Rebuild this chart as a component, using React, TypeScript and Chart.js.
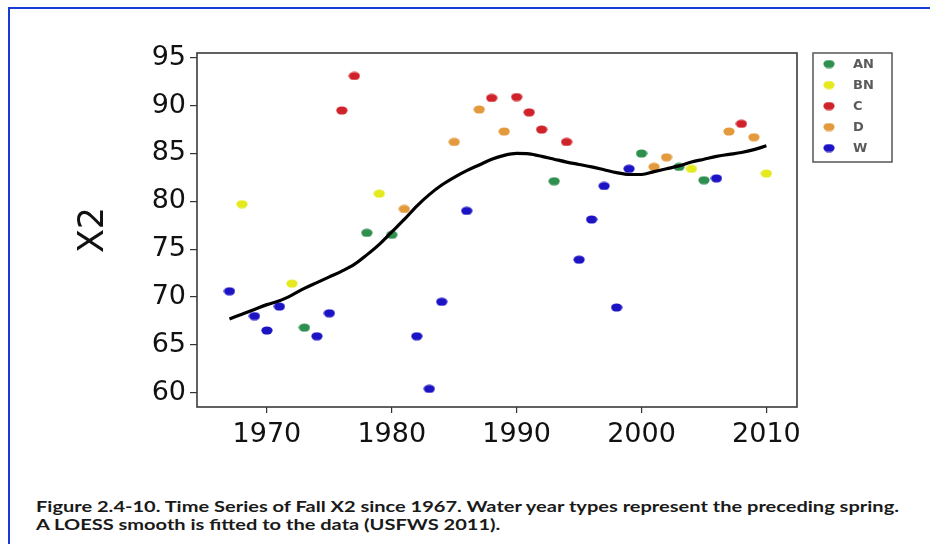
import React, { useEffect, useRef } from "react";
import { Chart, registerables } from "chart.js";

Chart.register(...registerables);

// ---- data ----
const YEARS = [
  1967, 1968, 1969, 1970, 1971, 1972, 1973, 1974, 1975, 1976, 1977,
  1978, 1979, 1980, 1981, 1982, 1983, 1984, 1985, 1986, 1987, 1988,
  1989, 1990, 1991, 1992, 1993, 1994, 1995, 1996, 1997, 1998, 1999,
  2000, 2001, 2002, 2003, 2004, 2005, 2006, 2007, 2008, 2009, 2010,
];
const FALL_X2 = [
  70.6, 79.7, 68.0, 66.5, 69.0, 71.4, 66.8, 65.9, 68.3, 89.5, 93.1,
  76.7, 80.8, 76.5, 79.2, 65.9, 60.4, 69.5, 86.2, 79.0, 89.6, 90.8,
  87.3, 90.9, 89.3, 87.5, 82.1, 86.2, 73.9, 78.1, 81.6, 68.9, 83.4,
  85.0, 83.6, 84.6, 83.6, 83.4, 82.2, 82.4, 87.3, 88.1, 86.7, 82.9,
];
const YEAR_TYPE = [
  "W", "BN", "W", "W", "W", "BN", "AN", "W", "W", "C", "C",
  "AN", "BN", "AN", "D", "W", "W", "W", "D", "W", "D", "C",
  "D", "C", "C", "C", "AN", "C", "W", "W", "W", "W", "W",
  "AN", "D", "D", "AN", "BN", "AN", "W", "D", "C", "D", "BN",
];
const LOESS_X2 = [
  67.7, 68.2, 68.7, 69.2, 69.6, 70.2, 70.9, 71.5, 72.1, 72.7, 73.4,
  74.4, 75.5, 76.8, 78.1, 79.5, 80.7, 81.7, 82.5, 83.2, 83.8, 84.4,
  84.8, 85.0, 84.95, 84.7, 84.4, 84.1, 83.85, 83.6, 83.3, 83.0, 82.8,
  82.8, 83.1, 83.4, 83.7, 84.1, 84.4, 84.7, 84.9, 85.1, 85.4, 85.8,
];
const WATER_TYPES = ["AN", "BN", "C", "D", "W"];
const TYPE_COLORS = ["#2f8f4f", "#e4ea1e", "#d0222a", "#e39a3c", "#1c14c4"];
const X_TICKS = [1970, 1980, 1990, 2000, 2010];
const Y_TICKS = [60, 65, 70, 75, 80, 85, 90, 95];
const CAPTION_LINES = [
  "Figure 2.4-10. Time Series of Fall X2 since 1967. Water year types represent the preceding spring.",
  "A LOESS smooth is fitted to the data (USFWS 2011).",
];

const TICK_FONT = "DejaVu Sans";

function makeDot(color: string): HTMLCanvasElement {
  const c = document.createElement("canvas");
  c.width = 12;
  c.height = 9;
  const g = c.getContext("2d")!;
  g.fillStyle = color;
  g.beginPath();
  g.ellipse(6, 4.5, 5.6, 4.1, 0, 0, Math.PI * 2);
  g.fill();
  return c;
}

const frameBox = {
  id: "frameBox",
  afterDraw(chart: any) {
    const { ctx, chartArea } = chart;
    ctx.save();
    ctx.strokeStyle = "#3a3a3a";
    ctx.lineWidth = 1.6;
    ctx.strokeRect(
      chartArea.left,
      chartArea.top,
      chartArea.right - chartArea.left,
      chartArea.bottom - chartArea.top
    );
    ctx.restore();
  },
};

export default function App() {
  const canvasRef = useRef<HTMLCanvasElement | null>(null);

  useEffect(() => {
    if (!canvasRef.current) return;
    const dots = TYPE_COLORS.map(makeDot);

    const legendBox = {
      id: "legendBox",
      afterDraw(chart: any) {
        const { ctx, chartArea } = chart;
        const left = chartArea.right + 16;
        const top = chartArea.top;
        const w = 79;
        const h = 109;
        ctx.save();
        ctx.strokeStyle = "#555";
        ctx.lineWidth = 1.5;
        ctx.strokeRect(left, top, w, h);
        ctx.font = `bold 13px "${TICK_FONT}"`;
        ctx.textBaseline = "middle";
        ctx.textAlign = "left";
        WATER_TYPES.forEach((t, i) => {
          const y = top + 11 + i * 21;
          const d = dots[i];
          ctx.drawImage(d, left + 16 - d.width / 2, y - d.height / 2);
          ctx.fillStyle = "#5a5a5a";
          ctx.fillText(t, left + 40, y + 1);
        });
        ctx.restore();
      },
    };

    const scatterSets = WATER_TYPES.map((t, k) => ({
      label: t,
      data: YEARS.map((yr, i) => ({ x: yr, y: FALL_X2[i], t: YEAR_TYPE[i] }))
        .filter((p) => p.t === t)
        .map((p) => ({ x: p.x, y: p.y })),
      backgroundColor: TYPE_COLORS[k],
      borderColor: TYPE_COLORS[k],
      pointStyle: dots[k],
      pointRadius: 5,
      pointBorderWidth: 0,
      showLine: false,
      order: 1,
    }));
    const loessSet = {
      label: "LOESS",
      data: YEARS.map((yr, i) => ({ x: yr, y: LOESS_X2[i] })),
      showLine: true,
      borderColor: "#000",
      borderWidth: 3.2,
      pointRadius: 0,
      tension: 0.4,
      cubicInterpolationMode: "monotone",
      fill: false,
      order: 0,
    };
    const chart = new Chart(canvasRef.current, {
      type: "scatter",
      data: { datasets: [loessSet as any, ...scatterSets] },
      options: {
        responsive: false,
        animation: false,
        layout: { padding: { left: 0, right: 133, top: 53, bottom: 13 } },
        plugins: {
          legend: { display: false },
          tooltip: { enabled: false },
        },
        scales: {
          x: {
            type: "linear",
            min: 1964.4,
            max: 2012.45,
            afterBuildTicks: (s: any) => {
              s.ticks = X_TICKS.map((v) => ({ value: v }));
            },
            afterFit: (s: any) => {
              s.height = 50;
            },
            border: { display: false },
            grid: {
              drawOnChartArea: false,
              drawTicks: true,
              tickLength: 6,
              color: "#333",
              lineWidth: 1.2,
            },
            ticks: {
              font: { family: TICK_FONT, size: 27 },
              color: "#111",
              padding: 6,
              maxRotation: 0,
              autoSkip: false,
              callback: (v: any) => String(v),
            },
          },
          y: {
            type: "linear",
            min: 58.5,
            max: 95.5,
            afterBuildTicks: (s: any) => {
              s.ticks = Y_TICKS.map((v) => ({ value: v }));
            },
            afterFit: (s: any) => {
              s.width = 197;
            },
            border: { display: false },
            grid: {
              drawOnChartArea: false,
              drawTicks: true,
              tickLength: 7,
              color: "#333",
              lineWidth: 1.2,
            },
            ticks: {
              font: { family: TICK_FONT, size: 27 },
              color: "#111",
              padding: 4,
              autoSkip: false,
              callback: (v: any) => String(v),
            },
            title: {
              display: true,
              text: "X2",
              font: { family: TICK_FONT, size: 35 },
              color: "#111",
              padding: { top: 73, bottom: 0 },
            },
          },
        },
      },
      plugins: [frameBox, legendBox],
    });
    return () => chart.destroy();
  }, []);

  return (
    <div
      style={{
        position: "absolute",
        left: 0,
        top: 0,
        width: 930,
        height: 544,
        background: "#fff",
        overflow: "hidden",
      }}
    >
      <div
        style={{
          position: "absolute",
          left: 8,
          top: 7,
          width: 940,
          height: 560,
          borderLeft: "2px solid #1a3ad6",
          borderTop: "2px solid #1a3ad6",
        }}
      />
      <canvas
        ref={canvasRef}
        width={930}
        height={470}
        style={{ position: "absolute", left: 0, top: 0, width: 930, height: 470 }}
      />
      <div
        style={{
          position: "absolute",
          left: 36,
          top: 497,
          fontFamily: "Lato, 'Open Sans', sans-serif",
          fontWeight: 700,
          fontSize: 15,
          lineHeight: "18px",
          color: "#1a1a1a",
          whiteSpace: "nowrap",
          transform: "scaleX(1.335)",
          transformOrigin: "0 0",
        }}
      >
        {CAPTION_LINES.map((l, i) => (
          <div key={i}>{l}</div>
        ))}
      </div>
    </div>
  );
}
